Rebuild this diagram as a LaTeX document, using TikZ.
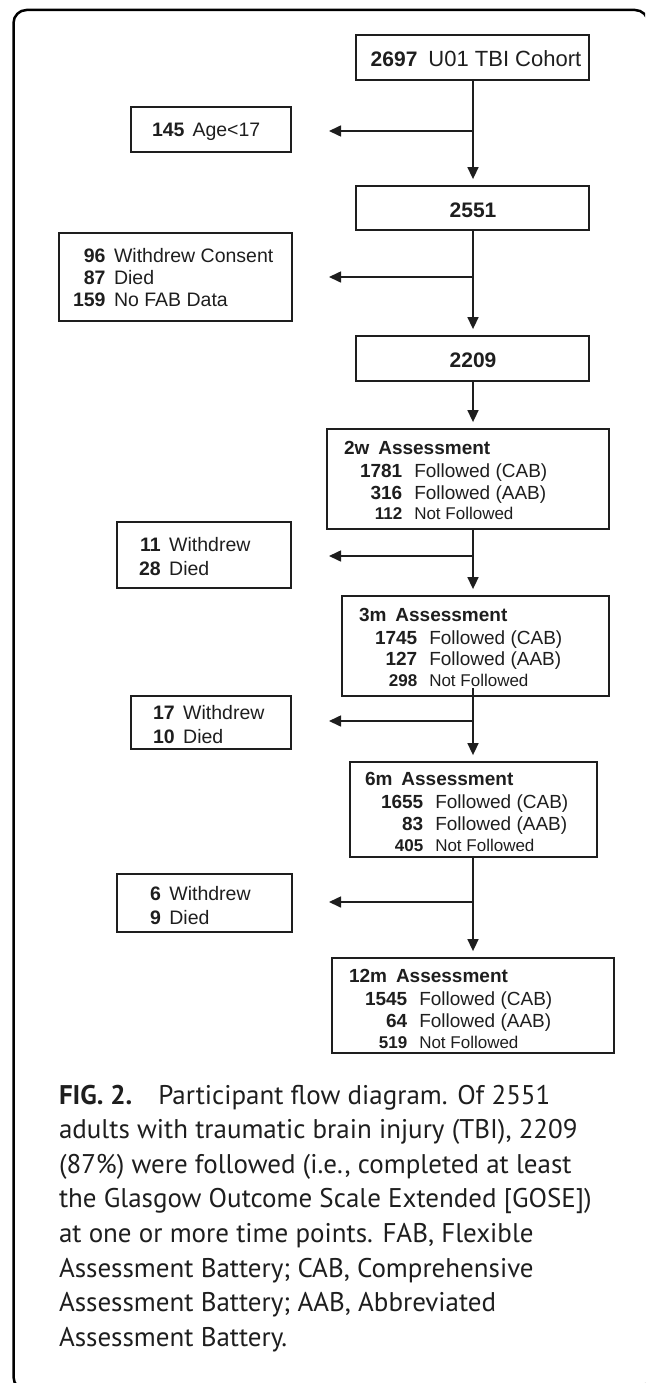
\documentclass[tikz,border=0pt]{standalone}
\usepackage{fontspec}
\setmainfont{Liberation Sans}
\newfontfamily\capfont{PT Sans}
\usetikzlibrary{arrows.meta,calc}
\definecolor{ink}{HTML}{1E1E1E}
\newcommand\fsz[2]{\fontsize{#1}{#2}\selectfont}
\begin{document}
\begin{tikzpicture}[x=1pt,y=-1pt,
  box/.style={draw=ink,line width=1.8pt,inner sep=0pt},
  arr/.style={draw=ink,line width=1.6pt,-{Triangle[length=12pt,width=11pt]}},
  darr/.style={arr,shorten >=6pt},
  txt/.style={inner sep=0pt,outer sep=0pt,anchor=base west,text=ink},
]
\useasboundingbox (0,0) rectangle (645,1383);
\clip (0,0) rectangle (645,1383);
% outer frame
\draw[black,line width=2.5pt,rounded corners=13pt] (13.5,10) rectangle (648,1390);

% boxes
\node[box,minimum width=233pt,minimum height=45pt] (A)   at (472.5,57.5) {};
\node[box,minimum width=160pt,minimum height=45pt] (S1)  at (211,129.5) {};
\node[box,minimum width=233pt,minimum height=44pt] (B)   at (472.5,208) {};
\node[box,minimum width=233pt,minimum height=88pt] (S2)  at (175.5,277) {};
\node[box,minimum width=233pt,minimum height=45pt] (C)   at (472.5,358.5) {};
\node[box,minimum width=282pt,minimum height=100pt] (W2) at (468,479) {};
\node[box,minimum width=174pt,minimum height=66pt] (S3)  at (204,555) {};
\node[box,minimum width=267pt,minimum height=100pt] (M3) at (475.5,646) {};
\node[box,minimum width=160pt,minimum height=53pt] (S4)  at (211,722.5) {};
\node[box,minimum width=247pt,minimum height=95pt] (M6)  at (473.5,809.5) {};
\node[box,minimum width=175pt,minimum height=58pt] (S5)  at (204.5,903) {};
\node[box,minimum width=282pt,minimum height=95pt] (M12) at (473,1005.5) {};

% texts
\node[txt,anchor=base] (tA) at (476,67) {{\fsz{21}{25}\bfseries 2697}\hspace{11pt}{\fsz{22}{26}U01 TBI Cohort}};
\node[txt,anchor=base] (tB) at (473,217) {\fsz{21}{25}\bfseries 2551};
\node[txt,anchor=base] (tC) at (473,367) {\fsz{21}{25}\bfseries 2209};

\node[txt] (tS1) at (152,137) {\fsz{19.5}{24}\textbf{145}\hspace{8pt}Age<17};
\node[txt] (tS2) at (73,262) {\fsz{19.5}{22.2}\begin{tabular}[t]{@{}r@{\hspace{8.5pt}}l@{}}
\textbf{96}&Withdrew Consent\\
\textbf{87}&Died\\
\textbf{159}&No FAB Data\end{tabular}};
\node[txt] (tS3) at (139,551) {\fsz{19.5}{24}\begin{tabular}[t]{@{}r@{\hspace{8.5pt}}l@{}}
\textbf{11}&Withdrew\\
\textbf{28}&Died\end{tabular}};
\node[txt] (tS4) at (153,719) {\fsz{19.5}{24}\begin{tabular}[t]{@{}r@{\hspace{8.5pt}}l@{}}
\textbf{17}&Withdrew\\
\textbf{10}&Died\end{tabular}};
\node[txt] (tS5) at (150,900) {\fsz{19.5}{24}\begin{tabular}[t]{@{}r@{\hspace{8.5pt}}l@{}}
\textbf{6}&Withdrew\\
\textbf{9}&Died\end{tabular}};

\node[txt] (tW2) at (344,454) {\fsz{19}{21.5}\begin{tabular}[t]{@{\hspace{16pt}}r@{\hspace{12pt}}l@{}}
\multicolumn{2}{@{}l@{}}{\bfseries 2w\hspace{9pt}Assessment}\\[2pt]
\textbf{1781}&Followed (CAB)\\
\textbf{316}&Followed (AAB)\\[-1pt]
{\fsz{17}{20}\bfseries 112}&{\fsz{17}{20}Not Followed}\end{tabular}};
\node[txt] (tM3) at (359,621) {\fsz{19}{21.5}\begin{tabular}[t]{@{\hspace{16pt}}r@{\hspace{12pt}}l@{}}
\multicolumn{2}{@{}l@{}}{\bfseries 3m\hspace{9pt}Assessment}\\[1.5pt]
\textbf{1745}&Followed (CAB)\\
\textbf{127}&Followed (AAB)\\[-1pt]
{\fsz{17}{20}\bfseries 298}&{\fsz{17}{20}Not Followed}\end{tabular}};
\node[txt] (tM6) at (365,785) {\fsz{19}{21.5}\begin{tabular}[t]{@{\hspace{16pt}}r@{\hspace{12pt}}l@{}}
\multicolumn{2}{@{}l@{}}{\bfseries 6m\hspace{9pt}Assessment}\\[2pt]
\textbf{1655}&Followed (CAB)\\
\textbf{83}&Followed (AAB)\\[-0.5pt]
{\fsz{17}{20}\bfseries 405}&{\fsz{17}{20}Not Followed}\end{tabular}};
\node[txt] (tM12) at (349,982) {\fsz{19}{21.5}\begin{tabular}[t]{@{\hspace{16pt}}r@{\hspace{12pt}}l@{}}
\multicolumn{2}{@{}l@{}}{\bfseries 12m\hspace{9pt}Assessment}\\[2pt]
\textbf{1545}&Followed (CAB)\\
\textbf{64}&Followed (AAB)\\[-0.5pt]
{\fsz{17}{20}\bfseries 519}&{\fsz{17}{20}Not Followed}\end{tabular}};

% caption
\node[txt] (cap) at (59,1104) {\capfont\fsz{27}{34.6}\begin{tabular}[t]{@{}l@{}}
\textbf{FIG. 2.}\hspace{26pt}Participant flow diagram. Of 2551\\
adults with traumatic brain injury (TBI), 2209\\
(87\%) were followed (i.e., completed at least\\
the Glasgow Outcome Scale Extended [GOSE])\\
at one or more time points. FAB, Flexible\\
Assessment Battery; CAB, Comprehensive\\
Assessment Battery; AAB, Abbreviated\\
Assessment Battery.\end{tabular}};

% spine and junctions
\coordinate (spine) at (473,0);
\coordinate (j1) at (473,131);  \coordinate (e1) at (329,131);
\coordinate (j2) at (473,277);  \coordinate (e2) at (329,277);
\coordinate (j3) at (473,556);  \coordinate (e3) at (329,556);
\coordinate (j4) at (473,721);  \coordinate (e4) at (329,721);
\coordinate (j5) at (473,902);  \coordinate (e5) at (329,902);

\draw[darr] (A.south -| spine) -- (B.north -| spine);
\draw[darr] (B.south -| spine) -- (C.north -| spine);
\draw[darr] (C.south -| spine) -- (W2.north -| spine);
\draw[darr] (W2.south -| spine) -- (M3.north -| spine);
\draw[darr] ($(M3.south -| spine)+(0,-9)$) -- (M6.north -| spine);
\draw[darr] ($(M6.south -| spine)+(0,-2)$) -- (M12.north -| spine);

\draw[arr] (j1) -- (e1);
\draw[arr] (j2) -- (e2);
\draw[arr] (j3) -- (e3);
\draw[arr] (j4) -- (e4);
\draw[arr] (j5) -- (e5);
\end{tikzpicture}
\end{document}
